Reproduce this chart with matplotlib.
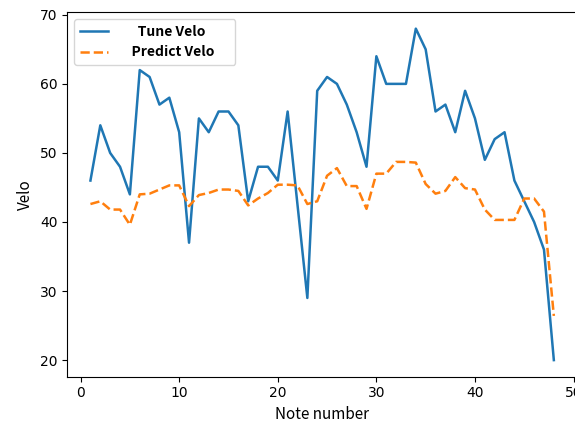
import matplotlib
matplotlib.use("Agg")
import matplotlib.pyplot as plt

# note index 1..48
notes = list(range(1, 49))

tune_velo = [46, 54, 50, 48, 44, 62, 61, 57, 58, 53,
             37, 55, 53, 56, 56, 54, 43, 48, 48, 46,
             56, 42.5, 29, 59, 61, 60, 57, 53, 48, 64,
             60, 60, 60, 68, 65, 56, 57, 53, 59, 55,
             49, 52, 53, 46, 43, 40, 36, 20]

predict_velo = [42.6, 43.0, 41.8, 41.8, 39.6, 44.0, 44.1, 44.7, 45.3, 45.3,
                42.3, 43.9, 44.2, 44.7, 44.7, 44.5, 42.4, 43.4, 44.2, 45.4,
                45.4, 45.3, 42.6, 43.0, 46.7, 47.8, 45.2, 45.2, 41.9, 47.0,
                47.0, 48.7, 48.7, 48.6, 45.5, 44.1, 44.5, 46.5, 44.9, 44.7,
                41.8, 40.3, 40.3, 40.3, 43.4, 43.4, 41.5, 26.4]

jp_font = ["Noto Sans CJK JP", "DejaVu Sans"]

fig = plt.figure(figsize=(5.75, 4.23), dpi=100)
ax = fig.add_axes([0.117, 0.1095, 0.8865, 0.862])

ax.plot(notes, tune_velo, color="tab:blue", linewidth=1.8,
        label="      Tune Velo       ")
ax.plot(notes, predict_velo, color="tab:orange", linestyle="--", linewidth=1.8,
        label="    Predict Velo     ")

ax.set_xlabel("Note number", family=jp_font, fontsize=11)
ax.set_ylabel("Velo", family=jp_font, fontsize=11)
ax.set_xticks([0, 10, 20, 30, 40, 50])
ax.set_yticks([20, 30, 40, 50, 60, 70])

ax.legend(loc="upper left", prop={"family": jp_font, "weight": "bold", "size": 10})

fig.savefig("out.png", dpi=100)
